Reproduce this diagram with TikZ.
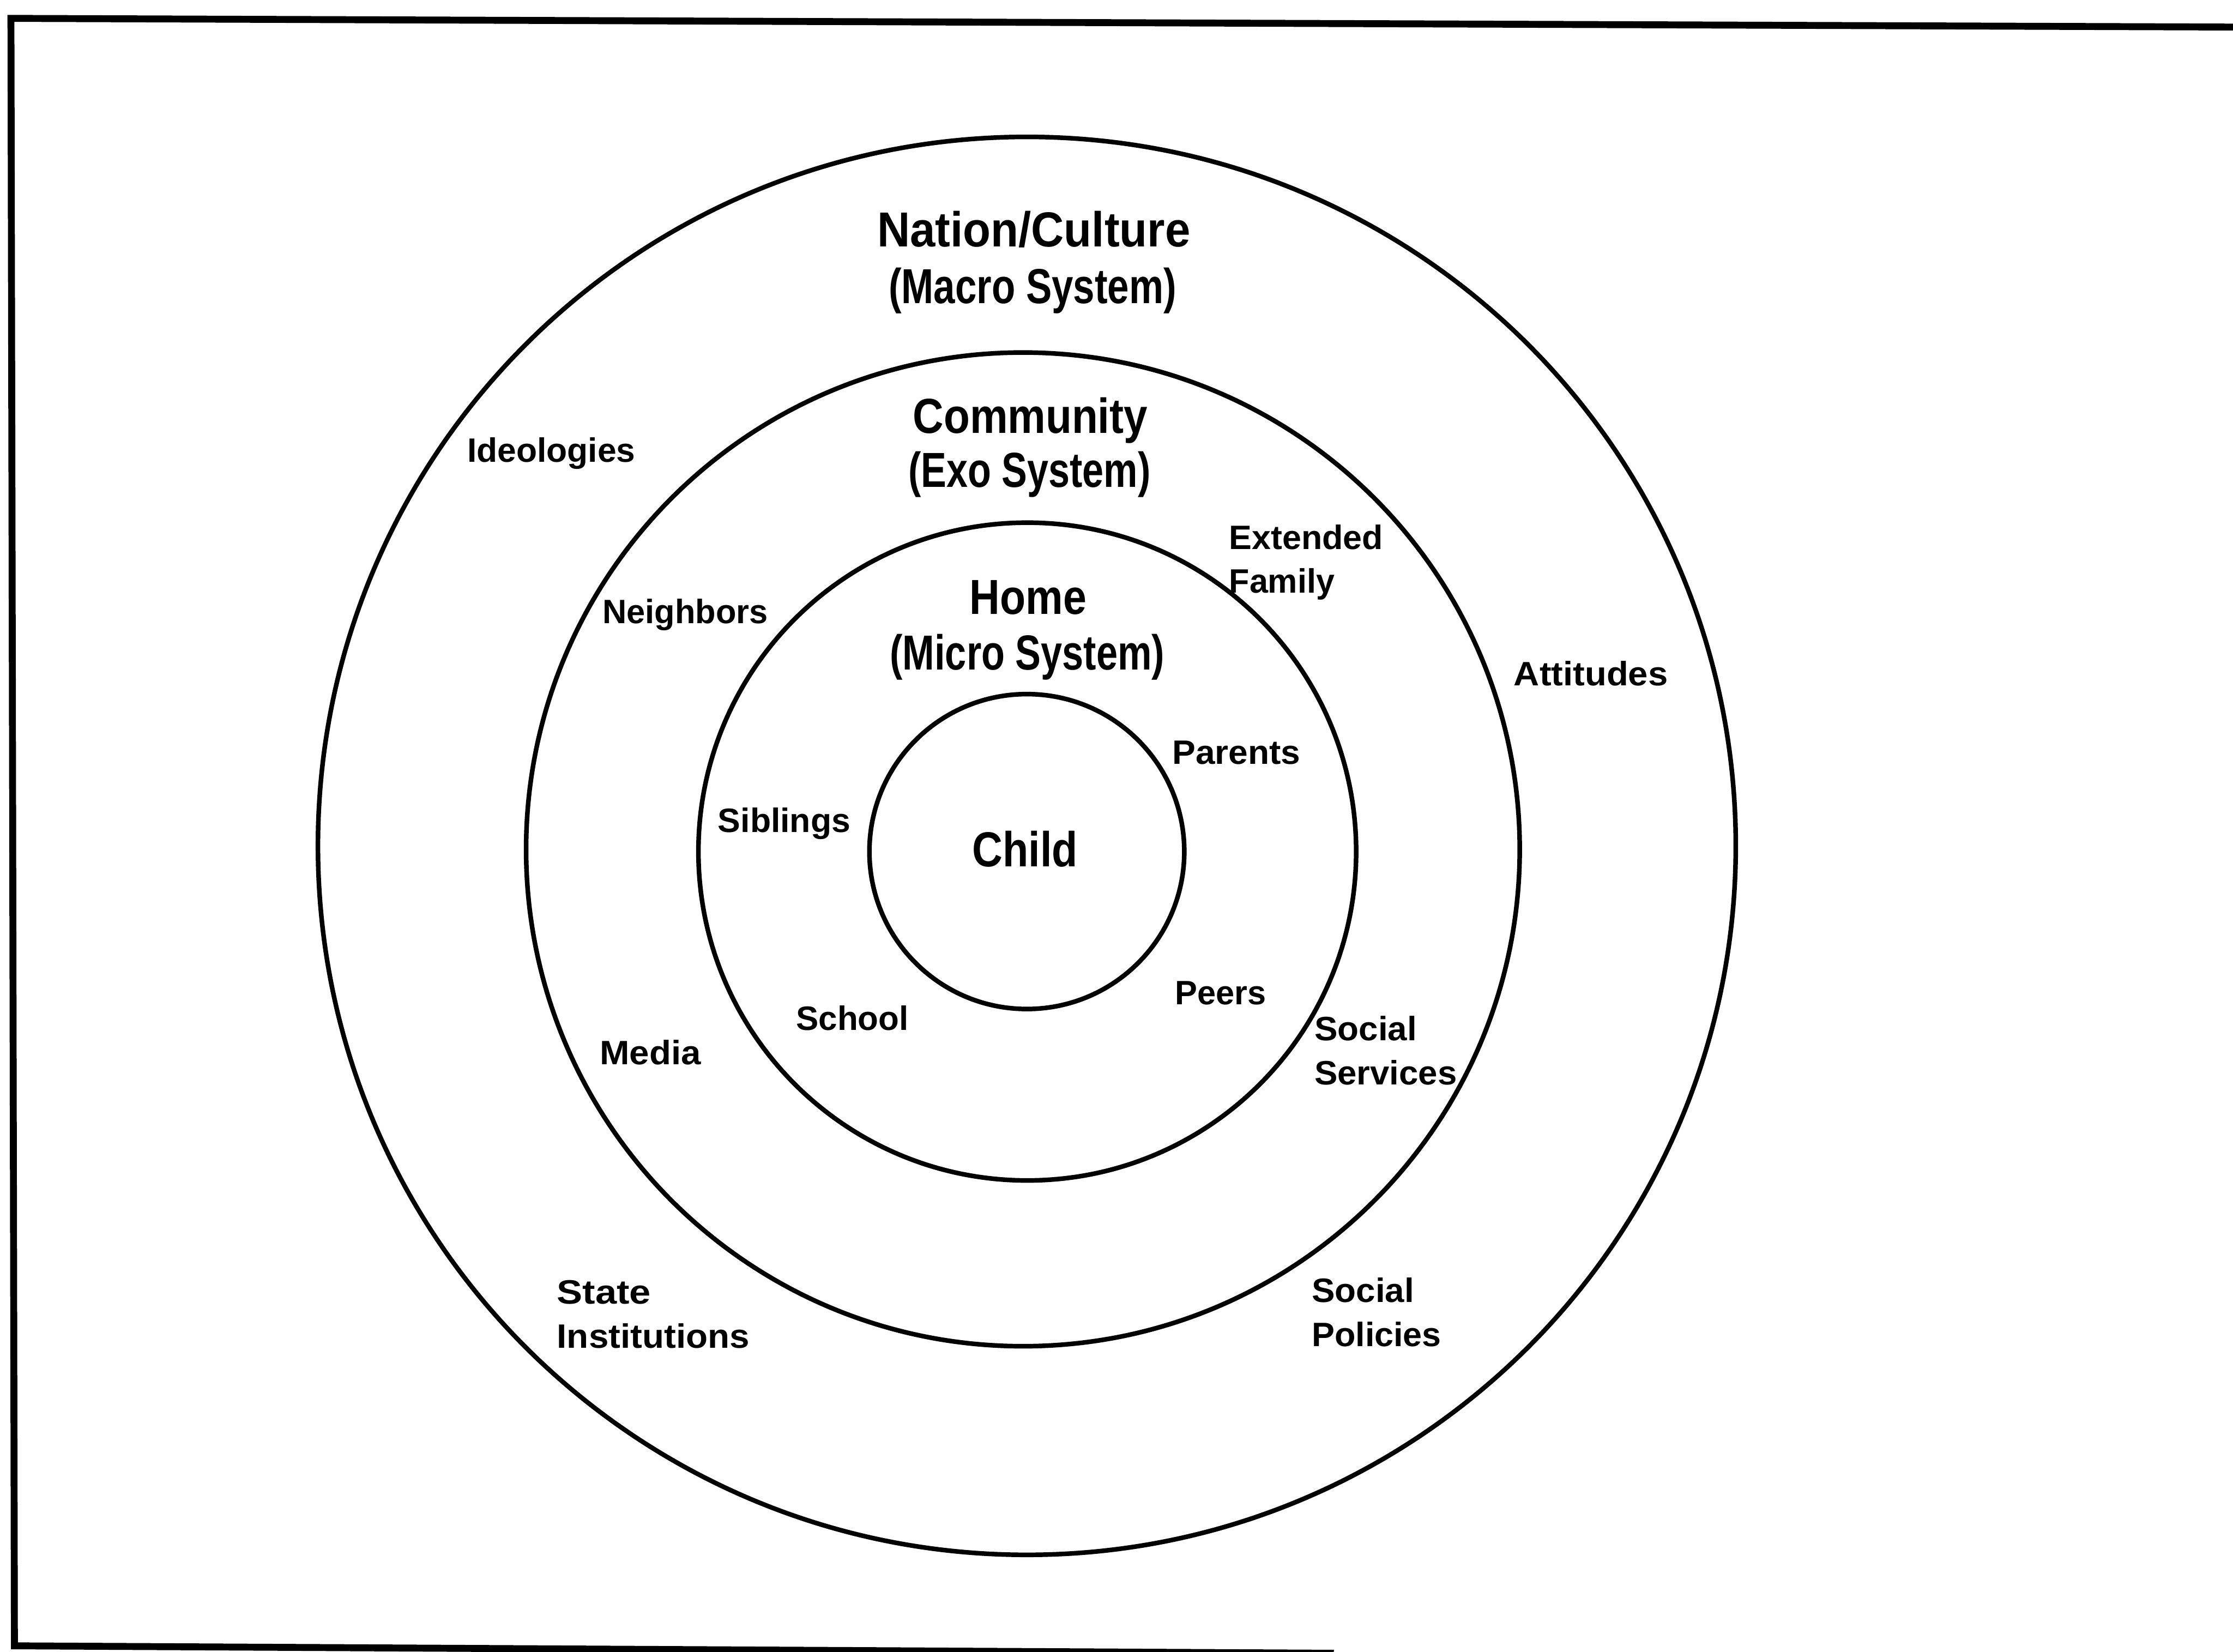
\documentclass[tikz,border=0pt]{standalone}
\usepackage{fontspec}
\setmainfont{Liberation Sans}
\usepackage{graphicx}
% squeeze a label to a given width (in cm) while keeping its natural height
\newcommand\fitw[2]{\resizebox{#1cm}{\height}{#2}}
\begin{document}
\begin{tikzpicture}[x=1cm,y=-1cm,
  ring/.style={circle, draw, line width=3pt, inner sep=0pt},
  bigtxt/.style={font=\fontsize{32}{36}\selectfont\bfseries, inner sep=0pt, anchor=base},
  smalltxt/.style={font=\fontsize{22}{26}\selectfont\bfseries, inner sep=0pt, anchor=base west},
  framing/.style={line width=4.5pt, line join=miter}
]
\useasboundingbox (0,0) rectangle (51.06,37.76);
\clip (0,0) rectangle (51.06,37.76);

% open frame around the figure
\draw[framing] (51.3,0.62) -- (0.25,0.42) -- (0.33,37.63) -- (30.5,37.80);

% nested systems
\node[ring, minimum size=32.42cm] (macro) at (23.48,19.34) {};
\node[ring, minimum size=22.72cm] (exo)   at (23.39,19.42) {};
\node[ring, minimum size=15.04cm] (micro) at (23.49,19.47) {};
\node[ring, minimum size=7.20cm]  (child) at (23.48,19.47) {};

% system titles
\node[bigtxt] (tNation)    at (23.64,5.64)  {\fitw{7.16}{Nation/Culture}};
\node[bigtxt] (tMacro)     at (23.61,6.94)  {\fitw{6.58}{(Macro System)}};
\node[bigtxt] (tCommunity) at (23.56,9.91)  {\fitw{5.37}{Community}};
\node[bigtxt] (tExo)       at (23.54,11.14) {\fitw{5.54}{(Exo System)}};
\node[bigtxt] (tHome)      at (23.51,14.04) {\fitw{2.67}{Home}};
\node[bigtxt] (tMicro)     at (23.49,15.31) {\fitw{6.28}{(Micro System)}};
\node[bigtxt] (tChild)     at (23.44,19.81) {\fitw{2.41}{Child}};

% influences within each system
\node[smalltxt] (lIdeologies)   at (10.68,10.57) {\fitw{3.84}{Ideologies}};
\node[smalltxt] (lNeighbors)    at (13.77,14.25) {\fitw{3.78}{Neighbors}};
\node[smalltxt] (lExtended)     at (28.10,12.56) {\fitw{3.52}{Extended}};
\node[smalltxt] (lFamily)       at (28.10,13.56) {\fitw{2.41}{Family}};
\node[smalltxt] (lAttitudes)    at (34.61,15.68) {\fitw{3.52}{Attitudes}};
\node[smalltxt] (lParents)      at (26.80,17.47) {\fitw{2.93}{Parents}};
\node[smalltxt] (lSiblings)     at (16.41,19.03) {\fitw{3.03}{Siblings}};
\node[smalltxt] (lPeers)        at (26.86,22.97) {\fitw{2.08}{Peers}};
\node[smalltxt] (lSchool)       at (18.20,23.56) {\fitw{2.57}{School}};
\node[smalltxt] (lMedia)        at (13.71,24.34) {\fitw{2.31}{Media}};
\node[smalltxt] (lSocialA)      at (30.05,23.79) {\fitw{2.34}{Social}};
\node[smalltxt] (lServices)     at (30.05,24.80) {\fitw{3.26}{Services}};
\node[smalltxt] (lState)        at (12.73,29.81) {\fitw{2.15}{State}};
\node[smalltxt] (lInstitutions) at (12.73,30.82) {\fitw{4.40}{Institutions}};
\node[smalltxt] (lSocialB)      at (29.99,29.78) {\fitw{2.34}{Social}};
\node[smalltxt] (lPolicies)     at (29.99,30.79) {\fitw{2.96}{Policies}};
\end{tikzpicture}
\end{document}
